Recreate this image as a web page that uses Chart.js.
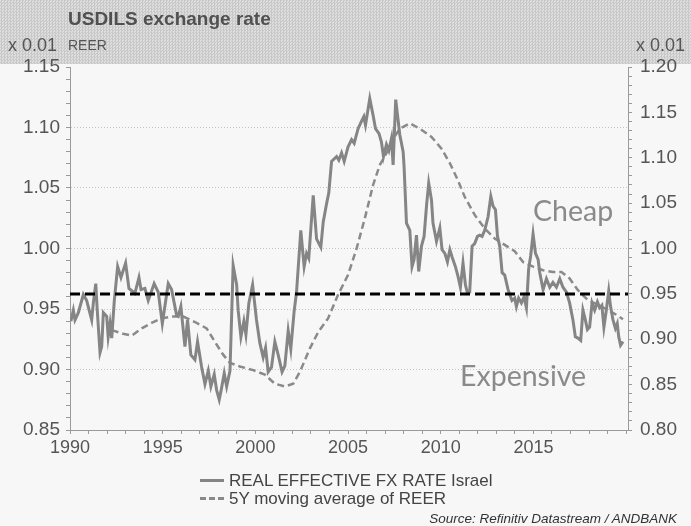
<!DOCTYPE html>
<html>
<head>
<meta charset="utf-8">
<title>USDILS exchange rate</title>
<script src="https://cdn.jsdelivr.net/npm/chart.js@4.4.0/dist/chart.umd.min.js"></script>
<style>
  html, body { margin: 0; padding: 0; }
  body {
    width: 691px; height: 526px; position: relative; overflow: hidden;
    background: #f7f7f7; color: #444;
    font-family: "Liberation Sans", Arial, sans-serif;
  }
  #header {
    position: absolute; left: 0; top: 0; width: 691px; height: 64px;
    background-color: #d2d2d2;
    background-image: repeating-conic-gradient(#c8c8c8 0 25%, #dedede 0 50%);
    background-size: 3px 3px;
  }
  canvas { position: absolute; left: 0; top: 0; }
  .txt { position: absolute; white-space: nowrap; line-height: 1; }
  #title { left: 68px; top: 9px; font-size: 19px; font-weight: bold; color: #505050; }
  .unit { top: 36px; font-size: 18px; color: #555; }
  #reer { left: 68px; top: 38px; font-size: 14px; color: #555; }
  .note { font-family: Lato, "Open Sans", sans-serif; font-size: 28.5px; color: #8a8a8a; }
  .leg { left: 229px; font-size: 17px; color: #444; }
  .legline { position: absolute; left: 200px; width: 24px; height: 0; }
  #source { right: 14px; top: 512px; font-size: 13.5px; font-style: italic; color: #333; }
</style>
</head>
<body>
<div id="header"></div>
<canvas id="chart" width="691" height="526"></canvas>

<div class="txt" id="title">USDILS exchange rate</div>
<div class="txt unit" style="left:8px;">x 0.01</div>
<div class="txt" id="reer">REER</div>
<div class="txt unit" style="left:636px;">x 0.01</div>

<div class="txt note" style="left:533px; top:196px;">Cheap</div>
<div class="txt note" style="left:460px; top:361px;">Expensive</div>

<div class="legline" style="top:479px; border-top:3px solid #858585;"></div>
<div class="txt leg" style="top:472px;">REAL EFFECTIVE FX RATE Israel</div>
<div class="legline" style="top:497px; border-top:3px dashed #8a8a8a;"></div>
<div class="txt leg" style="top:490px;">5Y moving average of REER</div>

<div class="txt" id="source">Source: Refinitiv Datastream / ANDBANK</div>

<script>
// ====== DATA ======
const xTicks = [1990, 1995, 2000, 2005, 2010, 2015];
const leftTicks = [0.85, 0.90, 0.95, 1.00, 1.05, 1.10, 1.15];
const rightTicks = [0.80, 0.85, 0.90, 0.95, 1.00, 1.05, 1.10, 1.15, 1.20];

// real effective FX rate (left axis)
const reerYears = [
  1990.05, 1990.18, 1990.27, 1990.45, 1990.72, 1990.90, 1991.17, 1991.26, 1991.39, 1991.47,
  1991.62, 1991.71, 1991.80, 1991.98, 1992.06, 1992.16, 1992.25, 1992.39, 1992.57, 1992.75,
  1993.00, 1993.18, 1993.50, 1993.72, 1993.83, 1994.04, 1994.22, 1994.54, 1994.76, 1994.98,
  1995.30, 1995.48, 1995.75, 1995.84, 1995.98, 1996.20, 1996.34, 1996.52, 1996.74, 1996.88,
  1997.10, 1997.28, 1997.46, 1997.60, 1997.78, 1997.91, 1998.05, 1998.18, 1998.32, 1998.45,
  1998.63, 1998.80, 1998.99, 1999.07, 1999.22, 1999.38, 1999.49, 1999.65, 1999.85, 2000.06,
  2000.24, 2000.42, 2000.55, 2000.69, 2000.87, 2001.05, 2001.23, 2001.44, 2001.59, 2001.77,
  2001.91, 2002.09, 2002.22, 2002.45, 2002.63, 2002.76, 2002.88, 2003.12, 2003.30, 2003.53,
  2003.66, 2003.84, 2003.96, 2004.11, 2004.38, 2004.50, 2004.65, 2004.79, 2005.00, 2005.19,
  2005.33, 2005.40, 2005.54, 2005.72, 2005.85, 2005.94, 2006.17, 2006.35, 2006.48, 2006.67,
  2006.80, 2006.91, 2007.07, 2007.20, 2007.34, 2007.43, 2007.57, 2007.79, 2007.97, 2008.02,
  2008.15, 2008.33, 2008.45, 2008.56, 2008.69, 2008.81, 2008.96, 2009.10, 2009.23, 2009.35,
  2009.50, 2009.58, 2009.77, 2009.95, 2010.07, 2010.22, 2010.36, 2010.49, 2010.61, 2010.79,
  2010.93, 2011.06, 2011.20, 2011.33, 2011.44, 2011.56, 2011.69, 2011.83, 2011.98, 2012.10,
  2012.23, 2012.37, 2012.55, 2012.70, 2012.82, 2012.95, 2013.06, 2013.18, 2013.31, 2013.45,
  2013.63, 2013.84, 2013.99, 2014.08, 2014.20, 2014.35, 2014.49, 2014.62, 2014.74, 2014.85,
  2014.98, 2015.11, 2015.25, 2015.34, 2015.52, 2015.70, 2015.88, 2016.05, 2016.24, 2016.42,
  2016.59, 2016.78, 2016.95, 2017.13, 2017.26, 2017.40, 2017.55, 2017.67, 2017.80, 2017.91,
  2018.03, 2018.16, 2018.30, 2018.45, 2018.57, 2018.69, 2018.80, 2018.93, 2019.06, 2019.16,
  2019.29, 2019.42, 2019.52, 2019.60, 2019.70, 2019.83
];
const reerValues = [
  0.940, 0.949, 0.941, 0.947, 0.962, 0.957, 0.941, 0.955, 0.971, 0.949,
  0.914, 0.919, 0.947, 0.944, 0.927, 0.938, 0.926, 0.957, 0.985, 0.976,
  0.988, 0.967, 0.963, 0.976, 0.966, 0.967, 0.957, 0.971, 0.964, 0.938,
  0.971, 0.966, 0.945, 0.944, 0.952, 0.919, 0.941, 0.912, 0.908, 0.923,
  0.902, 0.888, 0.899, 0.886, 0.896, 0.883, 0.875, 0.885, 0.897, 0.886,
  0.899, 0.986, 0.970, 0.949, 0.927, 0.940, 0.929, 0.955, 0.970, 0.941,
  0.922, 0.910, 0.918, 0.898, 0.902, 0.923, 0.912, 0.898, 0.903, 0.932,
  0.917, 0.948, 0.964, 1.015, 0.985, 0.996, 0.992, 1.044, 1.008, 1.001,
  1.022, 1.037, 1.046, 1.072, 1.076, 1.073, 1.079, 1.072, 1.084, 1.090,
  1.087, 1.091, 1.099, 1.105, 1.109, 1.102, 1.124, 1.110, 1.099, 1.095,
  1.088, 1.076, 1.086, 1.081, 1.091, 1.069, 1.123, 1.094, 1.080, 1.068,
  1.021, 1.015, 0.985, 0.991, 1.011, 0.981, 1.002, 1.010, 1.035, 1.054,
  1.040, 1.021, 1.006, 1.017, 0.999, 0.996, 0.989, 0.999, 0.993, 0.985,
  0.977, 0.968, 0.988, 0.970, 0.963, 0.964, 1.002, 1.004, 1.010, 1.011,
  1.010, 1.015, 1.026, 1.043, 1.035, 1.032, 1.010, 1.002, 0.980, 0.978,
  0.966, 0.957, 0.959, 0.952, 0.959, 0.955, 0.960, 0.951, 0.983, 0.994,
  1.012, 0.996, 0.991, 0.980, 0.966, 0.975, 0.968, 0.972, 0.968, 0.975,
  0.968, 0.964, 0.955, 0.941, 0.927, 0.926, 0.924, 0.949, 0.941, 0.933,
  0.935, 0.955, 0.949, 0.956, 0.951, 0.953, 0.935, 0.949, 0.965, 0.952,
  0.941, 0.934, 0.938, 0.927, 0.920, 0.923
];

// 5Y moving average (right axis)
const maYears = [
  1992.25, 1992.87, 1993.33, 1993.87, 1994.40, 1994.94, 1995.48, 1996.11, 1996.74, 1997.37,
  1997.82, 1998.26, 1998.63, 1999.16, 1999.88, 2000.51, 2001.05, 2001.59, 2002.04, 2002.40,
  2002.94, 2003.39, 2003.92, 2004.46, 2005.00, 2005.46, 2005.90, 2006.35, 2006.71, 2007.07,
  2007.43, 2007.79, 2008.33, 2008.87, 2009.50, 2010.04, 2010.49, 2010.93, 2011.29, 2011.83,
  2012.37, 2012.91, 2013.45, 2013.99, 2014.44, 2014.98, 2015.52, 2016.05, 2016.51, 2016.95,
  2017.40, 2017.94, 2018.48, 2019.02, 2019.47, 2019.83
];
const maValues = [
  0.910, 0.906, 0.904, 0.912, 0.918, 0.923, 0.925, 0.925, 0.919, 0.912,
  0.897, 0.883, 0.874, 0.870, 0.866, 0.861, 0.851, 0.848, 0.851, 0.864,
  0.890, 0.908, 0.923, 0.949, 0.971, 1.000, 1.033, 1.070, 1.092, 1.105,
  1.121, 1.132, 1.138, 1.132, 1.123, 1.110, 1.094, 1.075, 1.057, 1.037,
  1.022, 1.011, 1.004, 0.997, 0.985, 0.980, 0.976, 0.974, 0.974, 0.967,
  0.954, 0.943, 0.938, 0.932, 0.927, 0.922
];

// horizontal reference level (right axis)
const levelYears = [1990, 2020.1];
const levelValue = 0.95;

// ====== HELPERS ======
const toPoints = (xs, ys) => xs.map((x, i) => ({ x, y: ys[i] }));
const xFont = { family: "'Liberation Sans', Arial, sans-serif", size: 18 };
const yFont = { family: "'Liberation Sans', Arial, sans-serif", size: 19 };
const axisGray = "#9a9a9a";

// minor ticks every year / every 0.01
function yearTicks(scale) {
  const t = [];
  for (let y = 1990; y <= 2020; y++) t.push({ value: y });
  scale.ticks = t;
}
function hundredthTicks(lo, hi) {
  return (scale) => {
    const t = [];
    for (let k = lo; k <= hi; k++) t.push({ value: k / 100 });
    scale.ticks = t;
  };
}
const isListed = (list, v) => list.some((t) => Math.abs(t - v) < 1e-6);

// ====== CHART ======
new Chart(document.getElementById("chart"), {
  type: "line",
  data: {
    datasets: [
      {
        label: "level",
        data: levelYears.map((x) => ({ x, y: levelValue })),
        yAxisID: "y2",
        borderColor: "#000",
        borderWidth: 3,
        borderDash: [10, 5],
        pointRadius: 0,
        order: 0,
      },
      {
        label: "REAL EFFECTIVE FX RATE Israel",
        data: toPoints(reerYears, reerValues),
        yAxisID: "y",
        borderColor: "#858585",
        borderWidth: 3,
        pointRadius: 0,
        tension: 0,
        order: 1,
      },
      {
        label: "5Y moving average of REER",
        data: toPoints(maYears, maValues),
        yAxisID: "y2",
        borderColor: "#8a8a8a",
        borderWidth: 2.5,
        borderDash: [7, 4],
        pointRadius: 0,
        tension: 0,
        order: 2,
      },
    ],
  },
  options: {
    responsive: false,
    animation: false,
    layout: { padding: { top: 67, bottom: 66, left: 0, right: 0 } },
    plugins: { legend: { display: false }, tooltip: { enabled: false } },
    scales: {
      x: {
        type: "linear",
        min: 1990,
        max: 2020.1,
        afterBuildTicks: yearTicks,
        afterFit: (s) => { s.height = 30; },
        grid: { drawOnChartArea: false, tickLength: 4, tickColor: axisGray },
        border: { color: axisGray },
        ticks: {
          autoSkip: false,
          maxRotation: 0,
          padding: 3,
          color: "#555",
          font: xFont,
          callback: (v) => (isListed(xTicks, v) ? String(v) : ""),
        },
      },
      y: {
        position: "left",
        min: 0.85,
        max: 1.15,
        afterBuildTicks: hundredthTicks(85, 115),
        afterFit: (s) => { s.width = 70; },
        grid: {
          tickLength: 4,
          tickColor: axisGray,
          color: (ctx) => {
            const v = ctx.tick ? ctx.tick.value : null;
            if (v == null) return "transparent";
            return isListed(leftTicks, v) && v > 0.86 && v < 1.14 ? "#c4c4c4" : "transparent";
          },
        },
        border: { color: axisGray, dash: [1, 2] },
        ticks: {
          autoSkip: false,
          padding: 6,
          color: "#555",
          font: yFont,
          callback: (v) => (isListed(leftTicks, v) ? v.toFixed(2) : ""),
        },
      },
      y2: {
        position: "right",
        min: 0.8,
        max: 1.2,
        afterBuildTicks: hundredthTicks(80, 120),
        afterFit: (s) => { s.width = 63; },
        grid: { drawOnChartArea: false, tickLength: 4, tickColor: axisGray },
        border: { color: axisGray },
        ticks: {
          autoSkip: false,
          padding: 8,
          color: "#555",
          font: yFont,
          callback: (v) => (isListed(rightTicks, v) ? v.toFixed(2) : ""),
        },
      },
    },
  },
});
</script>
</body>
</html>
